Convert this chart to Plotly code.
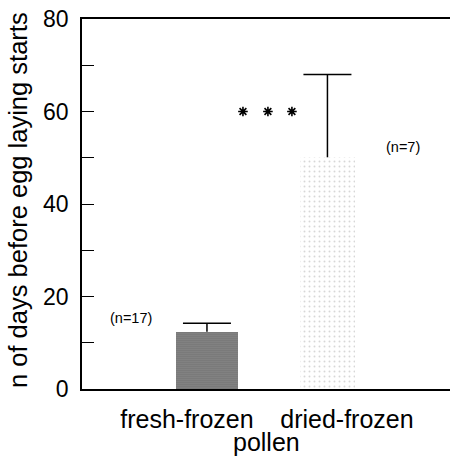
import plotly.graph_objects as go

categories = ["fresh-frozen", "dried-frozen"]
cat_pos = [0, 1]
means = [12.4, 50.1]
err_plus = [1.8, 17.9]
n_labels = ["(n=17)", "(n=7)"]
n_label_y = [15.4, 52.4]
n_label_x = [-0.35, 1.35]
sig_x = [0.35, 0.506, 0.656]
sig_y = [60, 60, 60]
y_ticks = [0, 20, 40, 60, 80]
x_title = "pollen"
y_title = "n of days before egg laying starts"

# bar geometry (style, in category units)
bar_width = [0.388, 0.344]
bar_offset = [-0.069, -0.294]
cap_half = 0.15

FONT = "Liberation Sans, Arial, sans-serif"

fig = go.Figure()

fig.add_trace(go.Bar(
    x=[cat_pos[0]], y=[means[0]], width=bar_width[0], offset=bar_offset[0],
    marker=dict(color="#808080", line=dict(width=0),
                pattern=dict(shape=".", fgcolor="#111111", bgcolor="#a0a0a0",
                             size=2, solidity=0.55)),
    showlegend=False, hoverinfo="skip"))

fig.add_trace(go.Bar(
    x=[cat_pos[1]], y=[means[1]], width=bar_width[1], offset=bar_offset[1],
    marker=dict(color="white", line=dict(width=0),
                pattern=dict(shape=".", fgcolor="#b0b0b0", bgcolor="white",
                             size=5, solidity=0.12)),
    showlegend=False, hoverinfo="skip"))

# error bars (upper only), drawn as lines from the data
ex, ey = [], []
for p, m, e, w, o in zip(cat_pos, means, err_plus, bar_width, bar_offset):
    c = p + o + w / 2
    ex += [c, c, None, c - cap_half, c + cap_half, None]
    ey += [m, m + e, None, m + e, m + e, None]
fig.add_trace(go.Scatter(x=ex, y=ey, mode="lines",
                         line=dict(color="black", width=1.5),
                         showlegend=False, hoverinfo="skip"))

fig.add_trace(go.Scatter(
    x=sig_x, y=sig_y, mode="markers",
    marker=dict(symbol="asterisk-open", size=8, color="black",
                line=dict(color="black", width=1.6)),
    showlegend=False, hoverinfo="skip"))

for xv, yv, t in zip(n_label_x, n_label_y, n_labels):
    fig.add_annotation(x=xv, y=yv, text=t, showarrow=False,
                       font=dict(family=FONT, size=14.5, color="black"))

# axis titles as annotations for exact placement
fig.add_annotation(x=0, y=0.5, xref="paper", yref="paper", text=y_title,
                   textangle=-90, showarrow=False, xanchor="center", yanchor="middle",
                   xshift=-64, yshift=4,
                   font=dict(family=FONT, size=25.5, color="black"))
fig.add_annotation(x=0.5, y=0, xref="paper", yref="paper", text=x_title,
                   showarrow=False, xanchor="center", yanchor="middle",
                   yshift=-53,
                   font=dict(family=FONT, size=25, color="black"))

fig.update_layout(
    width=450, height=456,
    margin=dict(l=82, r=0, t=19, b=67),
    paper_bgcolor="white", plot_bgcolor="white",
    font=dict(family=FONT, color="black"),
    bargap=0,
)

fig.update_xaxes(
    range=[-0.656, 1.644], tickvals=cat_pos, ticktext=categories,
    ticks="", showgrid=False, zeroline=False, automargin=False,
    showline=True, linecolor="black", linewidth=1.5, mirror=True,
    tickfont=dict(family=FONT, size=25, color="black"),
    ticklabelstandoff=7,
)

fig.update_yaxes(
    range=[0, 80], tickvals=y_ticks,
    ticks="inside", ticklen=12, tickcolor="black", tickwidth=1,
    minor=dict(dtick=10, ticks="inside", ticklen=12, tickcolor="black", tickwidth=1),
    showgrid=False, zeroline=False, automargin=False,
    showline=True, linecolor="black", linewidth=1.5,
    tickfont=dict(family=FONT, size=23, color="black"),
    ticklabelstandoff=7,
)

fig.write_html("out.html", config={"displayModeBar": False},
               post_script="document.body.style.margin='0';document.body.style.overflow='hidden';")
